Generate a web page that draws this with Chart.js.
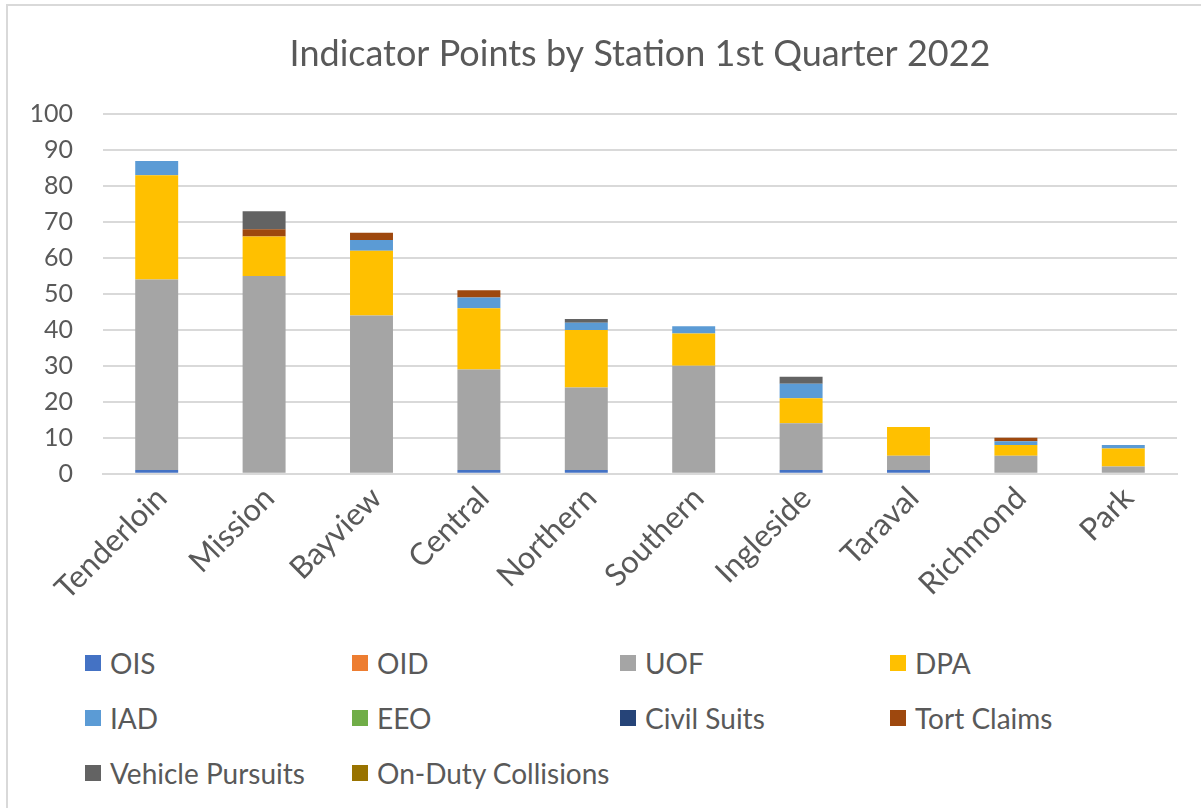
<!DOCTYPE html>
<html>
<head>
<meta charset="utf-8">
<script src="https://cdn.jsdelivr.net/npm/chart.js@4.4.1/dist/chart.umd.min.js"></script>
<style>
  html, body { margin: 0; padding: 0; background: #fff; }
  #frame {
    position: relative; width: 1201px; height: 808px; overflow: hidden;
    font-family: Lato, "Open Sans", sans-serif;
  }
  #border {
    position: absolute; left: 6px; top: 4px; width: 1220px; height: 830px;
    border: 2px solid #d9d9d9; box-sizing: border-box;
  }
  #chart-box { position: absolute; left: 0; top: 0; width: 1201px; height: 613px; }
  #legend {
    position: absolute; left: 85px; top: 645px; width: 1100px;
    display: grid; grid-template-columns: 267px 268px 270px 270px; row-gap: 20px;
    color: #595959; font-size: 28px;
  }
  .lg-item { display: flex; align-items: center; height: 35px; }
  .lg-box { width: 16px; height: 16px; margin-right: 9px; flex: none; }
</style>
</head>
<body>
<div id="frame">
  <div id="border"></div>
  <div id="chart-box"><canvas id="stationChart"></canvas></div>
  <div id="legend"></div>
</div>
<script>
// ── DATA ──
const stations = ['Tenderloin', 'Mission', 'Bayview', 'Central', 'Northern', 'Southern', 'Ingleside', 'Taraval', 'Richmond', 'Park'];
const yTicks = [0, 10, 20, 30, 40, 50, 60, 70, 80, 90, 100];

const ois        = [1, 0, 0, 1, 1, 0, 1, 1, 0, 0];
const oid        = [0, 0, 0, 0, 0, 0, 0, 0, 0, 0];
const uof        = [53, 55, 44, 28, 23, 30, 13, 4, 5, 2];
const dpa        = [29, 11, 18, 17, 16, 9, 7, 8, 3, 5];
const iad        = [4, 0, 3, 3, 2, 2, 4, 0, 1, 1];
const eeo        = [0, 0, 0, 0, 0, 0, 0, 0, 0, 0];
const civilSuits = [0, 0, 0, 0, 0, 0, 0, 0, 0, 0];
const tortClaims = [0, 2, 2, 2, 0, 0, 0, 0, 1, 0];
const pursuits   = [0, 5, 0, 0, 1, 0, 2, 0, 0, 0];
const collisions = [0, 0, 0, 0, 0, 0, 0, 0, 0, 0];

const seriesNames = ['OIS', 'OID', 'UOF', 'DPA', 'IAD', 'EEO', 'Civil Suits', 'Tort Claims', 'Vehicle Pursuits', 'On-Duty Collisions'];
const seriesValues = [ois, oid, uof, dpa, iad, eeo, civilSuits, tortClaims, pursuits, collisions];
const seriesColors = ['#4472C4', '#ED7D31', '#A5A5A5', '#FFC000', '#5B9BD5', '#70AD47', '#264478', '#9E480E', '#636363', '#997300'];

const TEXT = '#595959';
const FONT = 'Lato, "Open Sans", sans-serif';

function buildLegend() {
  const legend = document.getElementById('legend');
  seriesNames.forEach((name, i) => {
    legend.innerHTML += `
      <div class="lg-item">
        <div class="lg-box" style="background:${seriesColors[i]}"></div>
        <span>${name}</span>
      </div>`;
  });
}

function initChart() {
  const ctx = document.getElementById('stationChart');
  new Chart(ctx, {
    type: 'bar',
    data: {
      labels: stations,
      datasets: seriesNames.map((name, i) => ({
        label: name,
        data: seriesValues[i],
        backgroundColor: seriesColors[i],
        borderWidth: 0,
        barPercentage: 0.4,
        categoryPercentage: 1
      }))
    },
    options: {
      responsive: true,
      maintainAspectRatio: false,
      animation: false,
      layout: { padding: { left: 32, right: 24, top: 33, bottom: 0 } },
      plugins: {
        legend: { display: false },
        tooltip: { enabled: false },
        title: {
          display: true,
          fullSize: false,
          text: 'Indicator Points by Station 1st Quarter 2022',
          color: TEXT,
          font: { family: FONT, size: 36, weight: 'normal' },
          padding: { top: 0, bottom: 38 }
        }
      },
      scales: {
        x: {
          stacked: true,
          grid: { display: false, drawTicks: false },
          border: { color: '#d9d9d9', width: 2 },
          // let the rotated first label overhang the y axis like the original
          afterFit: axis => { axis.paddingLeft = 0; axis.paddingRight = 0; },
          ticks: {
            color: TEXT, font: { family: FONT, size: 31 },
            minRotation: 45, maxRotation: 45, padding: 6, autoSkip: false,
            labelOffset: 5
          }
        },
        y: {
          stacked: true,
          min: yTicks[0],
          max: yTicks[yTicks.length - 1],
          afterBuildTicks: axis => { axis.ticks = yTicks.map(v => ({ value: v })); },
          afterFit: axis => { axis.width = 71; },
          grid: { color: '#d9d9d9', lineWidth: 2, drawTicks: false },
          border: { display: false },
          ticks: { color: TEXT, font: { family: FONT, size: 25 }, padding: 30 }
        }
      }
    }
  });
}

buildLegend();
initChart();
</script>
</body>
</html>
